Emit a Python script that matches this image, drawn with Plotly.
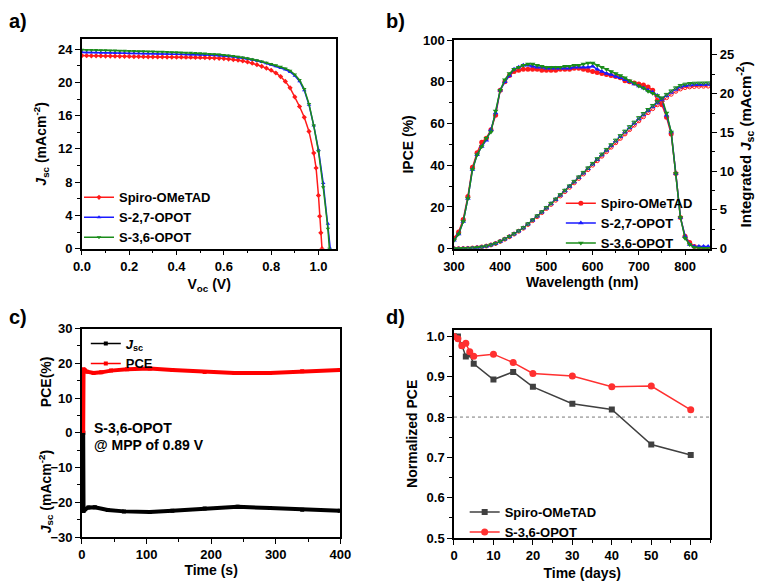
import plotly.graph_objects as go

# ---------------- DATA ----------------
# (a) J-V curves
V_SPIRO = [0.00,0.02,0.04,0.06,0.08,0.10,0.12,0.14,0.16,0.18,0.20,0.22,0.24,0.26,0.28,0.30,0.32,0.34,0.36,0.38,
           0.40,0.42,0.44,0.46,0.48,0.50,0.52,0.54,0.56,0.58,0.60,0.62,0.64,0.66,0.68,0.70,0.72,0.74,0.76,0.78,
           0.80,0.82,0.84,0.86,0.88,0.90,0.92,0.94,0.96,0.98,0.99,1.00,1.005,1.010,1.015]
J_SPIRO = [23.22,23.21,23.20,23.19,23.18,23.17,23.16,23.15,23.14,23.13,23.12,23.11,23.10,23.09,23.08,23.07,23.06,23.06,23.05,23.05,
           23.04,23.04,23.03,23.03,23.02,23.00,22.98,22.96,22.93,22.90,22.86,22.81,22.75,22.68,22.58,22.46,22.31,22.13,21.93,21.71,
           21.46,21.13,20.70,20.12,19.35,18.25,17.10,15.80,14.10,11.50,9.70,6.40,3.90,1.90,0.00]

V_S27 = [0.00,0.02,0.04,0.06,0.08,0.10,0.12,0.14,0.16,0.18,0.20,0.22,0.24,0.26,0.28,0.30,0.32,0.34,0.36,0.38,
         0.40,0.42,0.44,0.46,0.48,0.50,0.52,0.54,0.56,0.58,0.60,0.62,0.64,0.66,0.68,0.70,0.72,0.74,0.76,0.78,
         0.80,0.82,0.84,0.86,0.88,0.90,0.92,0.94,0.96,0.98,1.00,1.02,1.04,1.05]
J_S27 = [23.62,23.61,23.60,23.59,23.58,23.57,23.56,23.55,23.54,23.53,23.52,23.51,23.50,23.49,23.48,23.47,23.46,23.45,23.44,23.43,
         23.42,23.40,23.38,23.36,23.34,23.32,23.30,23.28,23.25,23.22,23.18,23.13,23.07,23.00,22.92,22.83,22.72,22.60,22.46,22.30,
         22.13,21.94,21.74,21.55,21.25,20.80,20.15,19.05,17.30,14.80,11.90,7.90,3.00,0.00]

V_S36 = [0.00,0.02,0.04,0.06,0.08,0.10,0.12,0.14,0.16,0.18,0.20,0.22,0.24,0.26,0.28,0.30,0.32,0.34,0.36,0.38,
         0.40,0.42,0.44,0.46,0.48,0.50,0.52,0.54,0.56,0.58,0.60,0.62,0.64,0.66,0.68,0.70,0.72,0.74,0.76,0.78,
         0.80,0.82,0.84,0.86,0.88,0.90,0.92,0.94,0.96,0.98,1.00,1.02,1.04,1.046]
J_S36 = [23.92,23.91,23.90,23.89,23.88,23.86,23.85,23.83,23.82,23.80,23.79,23.77,23.76,23.74,23.73,23.71,23.70,23.68,23.66,23.64,
         23.62,23.60,23.58,23.56,23.53,23.50,23.47,23.43,23.39,23.34,23.29,23.23,23.16,23.08,22.99,22.89,22.78,22.66,22.52,22.37,
         22.22,22.05,21.88,21.68,21.40,20.95,20.30,19.20,17.40,14.80,11.70,7.40,2.40,0.00]

# (b) IPCE and integrated Jsc
WL = [300,310,320,330,340,350,360,370,380,390,400,410,420,430,440,450,460,470,480,490,
      500,510,520,530,540,550,560,570,580,590,600,610,620,630,640,650,660,670,680,690,
      700,710,720,730,740,750,760,770,780,790,800,810,820,830,840,850]
IPCE_SPIRO = [5,8,14,25,39,46,51,53,57,64,76,80,83,85,85.5,86,86,86,86,85.5,
              85.5,85.5,85.5,86,86,86,86.5,86.5,86,85.5,85,84.5,84,83.5,83,82.5,82,80.5,80,79.5,
              79,78.5,77.5,76,71,69,63,55,36,15,6,3,1,0.5,0.3,0.2]
IPCE_S27 = [4,7,13,24,38,45,49,52,57,65,76,80,83,86,87,88,88,87.5,87,87,
            86.5,86.5,86.5,86.5,86.5,86.5,87,87,87,87,87.5,86,85,84,83.5,82.5,82,81,80,79,
            78,77,76,75,73.5,71,64,56,36,15,6,2,1,1,1,1]
IPCE_S36 = [4,7,13,24,38,45,49,53,56,66,76,81,84,86,87,88,88.5,88.5,88,87.5,
            87,87,87,87,87.5,87.5,88,88,88.5,89,89,88,87,86,85,84,83,82,80.5,79.5,
            78,77,75.5,74.5,73.5,72,65,56,36,15,5,2,0.5,0.3,0.2,0.2]
INT_SPIRO = [0,0,0.02,0.04,0.08,0.14,0.22,0.33,0.48,0.67,0.93,1.22,1.54,1.88,2.25,2.64,3.12,3.62,4.13,4.65,
             5.18,5.71,6.25,6.80,7.36,7.92,8.49,9.06,9.63,10.20,10.77,11.35,11.93,12.51,13.09,13.67,14.23,14.80,15.36,15.93,
             16.49,17.02,17.55,18.06,18.56,19.03,19.48,19.92,20.30,20.60,20.78,20.87,20.92,20.95,20.96,20.97]
INT_S27 = [0,0,0.02,0.04,0.08,0.14,0.22,0.33,0.48,0.67,0.94,1.24,1.56,1.90,2.28,2.68,3.17,3.68,4.20,4.72,
           5.26,5.80,6.35,6.90,7.47,8.04,8.61,9.19,9.76,10.34,10.91,11.51,12.10,12.70,13.29,13.89,14.46,15.04,15.61,16.19,
           16.76,17.29,17.81,18.32,18.82,19.29,19.74,20.18,20.57,20.87,21.04,21.12,21.16,21.18,21.19,21.20]
INT_S36 = [0,0,0.02,0.04,0.08,0.14,0.22,0.33,0.48,0.68,0.95,1.25,1.57,1.92,2.30,2.70,3.20,3.71,4.23,4.76,
           5.30,5.85,6.40,6.96,7.53,8.10,8.68,9.26,9.84,10.42,11.00,11.60,12.20,12.80,13.40,14.00,14.58,15.16,15.74,16.32,
           16.90,17.43,17.95,18.47,18.97,19.45,19.90,20.35,20.75,21.05,21.22,21.30,21.34,21.36,21.37,21.38]

# (c) MPP tracking
T_JSC = [2, 2.5, 5, 10, 20, 40, 65, 105, 140, 190, 241, 291, 341, 399]
JSC_T = [0, -22.5, -22.0, -21.5, -21.4, -22.2, -22.6, -22.8, -22.4, -21.8, -21.3, -21.6, -22.1, -22.4]
T_PCE = [2, 2.5, 4, 8, 18, 30, 45, 70, 105, 140, 190, 236, 291, 341, 399]
PCE_T = [0, 18.3, 18.1, 17.6, 17.2, 17.4, 17.9, 18.3, 18.5, 18.1, 17.5, 17.2, 17.2, 17.7, 18.1]

# (d) stability
DAYS = [0, 1, 2, 3, 4, 5, 10, 15, 20, 30, 40, 50, 60]
NPCE_SPIRO = [1.0, 1.0, 0.978, 0.95, 0.955, 0.932, 0.893, 0.912, 0.875, 0.833, 0.819, 0.732, 0.706]
NPCE_S36 = [1.0, 0.994, 0.977, 0.983, 0.962, 0.951, 0.956, 0.935, 0.908, 0.902, 0.875, 0.877, 0.818]
THRESH_X = [0, 65]
THRESH_Y = [0.8, 0.8]

NAMES_A = ["Spiro-OMeTAD", "S-2,7-OPOT", "S-3,6-OPOT"]

# ---------------- STYLE ----------------
W, H = 771, 587
FONT = "Liberation Sans, Arial, sans-serif"
RED, BLUE, GREEN = "#ff1a1a", "#1a1aff", "#1a8c1a"
DRED, DGREY = "#ff3030", "#404040"


def xd(a, b):
    return [a / W, b / W]


def yd(top, bottom):
    return [1 - bottom / H, 1 - top / H]


def mn(d):
    return dict(ticks="outside", ticklen=3, tickwidth=1, tickcolor="black", dtick=d)


def ax(**kw):
    base = dict(showline=True, linecolor="black", linewidth=1.5, mirror=True,
                ticks="outside", ticklen=5, tickwidth=1.3, tickcolor="black",
                showgrid=False, zeroline=False,
                tickfont=dict(family=FONT, size=13, color="black", weight="bold"),
                title_font=dict(family=FONT, size=14, color="black", weight="bold"))
    base.update(kw)
    return base


fig = go.Figure()

# (a)
for V, J, nm, col, sym in [(V_SPIRO, J_SPIRO, NAMES_A[0], RED, "diamond"),
                           (V_S27, J_S27, NAMES_A[1], BLUE, "triangle-up"),
                           (V_S36, J_S36, NAMES_A[2], GREEN, "triangle-down")]:
    fig.add_trace(go.Scatter(x=V, y=J, name=nm, mode="lines+markers", xaxis="x", yaxis="y",
                             line=dict(color=col, width=1.5), marker=dict(symbol=sym, size=4, color=col),
                             legend="legend"))

# (b)
for I, nm, col, sym in [(IPCE_SPIRO, NAMES_A[0], RED, "circle"),
                        (IPCE_S27, NAMES_A[1], BLUE, "triangle-up"),
                        (IPCE_S36, NAMES_A[2], GREEN, "triangle-down")]:
    fig.add_trace(go.Scatter(x=WL, y=I, name=nm, mode="lines+markers", xaxis="x2", yaxis="y2",
                             line=dict(color=col, width=1.5), marker=dict(symbol=sym, size=5, color=col),
                             legend="legend2"))
for I, nm, col, sym in [(INT_SPIRO, NAMES_A[0], RED, "circle-open"),
                        (INT_S27, NAMES_A[1], BLUE, "triangle-up-open"),
                        (INT_S36, NAMES_A[2], GREEN, "triangle-down-open")]:
    fig.add_trace(go.Scatter(x=WL, y=I, name=nm, mode="lines+markers", xaxis="x2", yaxis="y3",
                             line=dict(color=col, width=1), marker=dict(symbol=sym, size=4, color=col),
                             showlegend=False))

# (c)
fig.add_trace(go.Scatter(x=T_JSC, y=JSC_T, name="<i>J</i><sub>sc</sub>", mode="lines+markers",
                         xaxis="x3", yaxis="y4", line=dict(color="black", width=1.5),
                         marker=dict(symbol="square", size=4, color="black"), legend="legend3"))
fig.add_trace(go.Scatter(x=T_PCE, y=PCE_T, name="PCE", mode="lines+markers",
                         xaxis="x3", yaxis="y4", line=dict(color="red", width=1.5),
                         marker=dict(symbol="square", size=4, color="red"), legend="legend3"))
fig.add_trace(go.Scatter(x=T_JSC, y=JSC_T, mode="lines", xaxis="x3", yaxis="y4",
                         line=dict(color="black", width=4), showlegend=False))
fig.add_trace(go.Scatter(x=T_PCE, y=PCE_T, mode="lines", xaxis="x3", yaxis="y4",
                         line=dict(color="red", width=4), showlegend=False))

# (d)
fig.add_trace(go.Scatter(x=THRESH_X, y=THRESH_Y, mode="lines", xaxis="x4", yaxis="y5",
                         line=dict(color="#777777", width=1, dash="dot"), showlegend=False))
fig.add_trace(go.Scatter(x=DAYS, y=NPCE_SPIRO, name="Spiro-OMeTAD", mode="lines+markers",
                         xaxis="x4", yaxis="y5", line=dict(color=DGREY, width=1.5),
                         marker=dict(symbol="square", size=6, color=DGREY), legend="legend4"))
fig.add_trace(go.Scatter(x=DAYS, y=NPCE_S36, name="S-3,6-OPOT", mode="lines+markers",
                         xaxis="x4", yaxis="y5", line=dict(color=DRED, width=1.5),
                         marker=dict(symbol="circle", size=7, color=DRED), legend="legend4"))

leg = dict(bgcolor="rgba(0,0,0,0)", font=dict(family=FONT, size=13, color="black", weight="bold"),
           tracegroupgap=0, itemwidth=30, xanchor="left", yanchor="top")

fig.update_layout(
    width=W, height=H, autosize=False,
    margin=dict(l=0, r=0, t=0, b=0),
    paper_bgcolor="white", plot_bgcolor="white",
    font=dict(family=FONT, color="black"),
    xaxis=ax(domain=xd(73, 335), anchor="y", range=[0, 1.076], dtick=0.2, tickformat=".1f",
             minor=mn(0.1), title=dict(text="V<sub>oc</sub> (V)", standoff=6)),
    yaxis=ax(domain=yd(33, 248), anchor="x", range=[0, 25.2], dtick=4, minor=mn(2),
             title=dict(text="<i>J</i><sub>sc</sub> (mAcm<sup>-2</sup>)", standoff=8)),
    xaxis2=ax(domain=xd(456, 720), anchor="y2", range=[300, 855], dtick=100, minor=mn(50),
              title=dict(text="Wavelength (nm)", standoff=2)),
    yaxis2=ax(domain=yd(34, 248), anchor="x2", range=[0, 100], dtick=20, mirror=False, minor=mn(10),
              title=dict(text="IPCE (%)", standoff=6)),
    yaxis3=ax(overlaying="y2", anchor="x2", side="right", range=[0, 26.9], dtick=5, mirror=False,
              minor=mn(2.5),
              title=dict(text="Integrated <i>J</i><sub>sc</sub> (mAcm<sup>-2</sup>)", standoff=6,
                         font=dict(family=FONT, size=15, color="black", weight="bold"))),
    xaxis3=ax(domain=xd(73, 339), anchor="y4", range=[0, 400], dtick=100, minor=mn(50),
              title=dict(text="Time (s)", standoff=2)),
    yaxis4=ax(domain=yd(330, 544), anchor="x3", range=[-30, 30], dtick=10, minor=mn(5)),
    xaxis4=ax(domain=xd(456, 720), anchor="y5", range=[0, 65], dtick=10, minor=mn(5),
              title=dict(text="Time (days)", standoff=6)),
    yaxis5=ax(domain=yd(331, 545), anchor="x4", range=[0.5, 1.017], dtick=0.1, tickformat=".1f",
              minor=mn(0.05), title=dict(text="Normalized PCE", standoff=6)),
    legend=dict(leg, x=70 / W, y=1 - 180 / H),
    legend2=dict(leg, x=566 / W, y=1 - 186 / H),
    legend3=dict(leg, x=77 / W, y=1 - 330 / H),
    legend4=dict(leg, x=467 / W, y=1 - 503 / H),
)

ann = []
for txt, x, y in [("a)", -4, 14), ("b)", 384, 14), ("c)", -4, 318), ("d)", 384, 318)]:
    ann.append(dict(text=txt, x=x / W, y=1 - y / H, xref="paper", yref="paper", xanchor="left",
                    yanchor="middle", showarrow=False,
                    font=dict(family=FONT, size=20, color="black", weight="bold")))
for txt, y in [("S-3,6-OPOT", 432), ("@ MPP of 0.89 V", 449)]:
    ann.append(dict(text=txt, x=83 / W, y=1 - y / H, xref="paper", yref="paper", xanchor="left",
                    yanchor="middle", showarrow=False,
                    font=dict(family=FONT, size=14, color="black", weight="bold")))
for txt, y in [("PCE(%)", 384), ("<i>J</i><sub>sc</sub> (mAcm<sup>-2</sup>)", 497)]:
    ann.append(dict(text=txt, x=36 / W, y=1 - y / H, xref="paper", yref="paper", xanchor="center",
                    yanchor="middle", showarrow=False, textangle=-90,
                    font=dict(family=FONT, size=14, color="black", weight="bold")))
fig.update_layout(annotations=ann)

fig.write_html("out.html")
